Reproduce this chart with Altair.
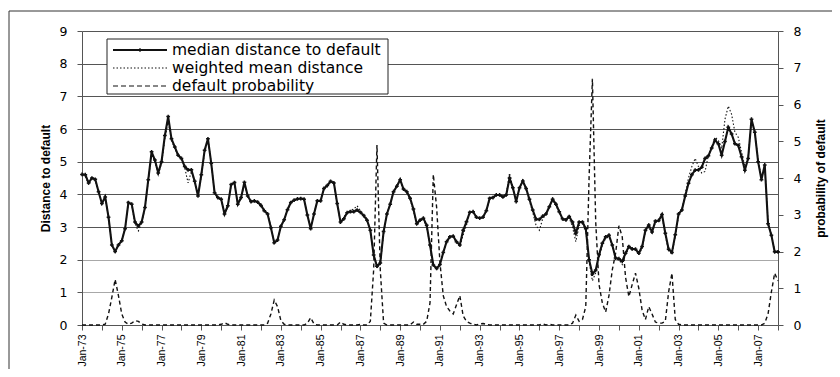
import altair as alt
import pandas as pd

START_YEAR = 1973
STEPS_PER_YEAR = 6  # one reading every two months

# median distance to default (left axis), rows = years 1973..2007, last value Jan-08
median = [
    4.61, 4.60, 4.35, 4.50, 4.46, 4.08,
    3.72, 3.92, 3.30, 2.45, 2.25, 2.45,
    2.58, 2.95, 3.75, 3.70, 3.15, 3.03,
    3.15, 3.60, 4.45, 5.30, 5.05, 4.65,
    5.00, 5.80, 6.38, 5.70, 5.45, 5.20,
    5.10, 4.85, 4.75, 4.75, 4.40, 3.95,
    4.60, 5.35, 5.70, 4.95, 4.05, 3.90,
    3.85, 3.40, 3.65, 4.30, 4.36, 3.70,
    3.90, 4.37, 3.95, 3.78, 3.80, 3.76,
    3.66, 3.50, 3.40, 2.98, 2.52, 2.60,
    3.02, 3.22, 3.53, 3.75, 3.82, 3.86,
    3.87, 3.85, 3.37, 2.95, 3.40, 3.80,
    3.80, 4.18, 4.27, 4.40, 4.35, 3.72,
    3.15, 3.25, 3.44, 3.47, 3.47, 3.52,
    3.45, 3.35, 3.21, 2.90, 2.14, 1.80,
    1.90, 2.86, 3.40, 3.70, 4.08, 4.25,
    4.45, 4.16, 4.08, 3.88, 3.55, 3.10,
    3.21, 3.27, 3.05, 2.45, 1.84, 1.73,
    1.85, 2.22, 2.55, 2.70, 2.72, 2.55,
    2.45, 2.90, 3.16, 3.45, 3.47, 3.30,
    3.27, 3.30, 3.50, 3.88, 3.90, 3.98,
    3.98, 3.92, 3.98, 4.50, 4.20, 3.78,
    4.20, 4.41, 4.18, 3.85, 3.52, 3.24,
    3.23, 3.33, 3.40, 3.62, 3.85, 3.70,
    3.47, 3.25, 3.22, 3.32, 3.15, 2.81,
    3.15, 3.15, 2.95, 2.00, 1.56, 1.68,
    2.15, 2.50, 2.70, 2.75, 2.45, 2.05,
    2.03, 1.95, 2.20, 2.40, 2.33, 2.32,
    2.20, 2.40, 2.90, 3.06, 2.85, 3.18,
    3.20, 3.38, 2.81, 2.32, 2.22, 2.76,
    3.40, 3.52, 3.95, 4.34, 4.60, 4.74,
    4.75, 4.83, 5.10, 5.18, 5.42, 5.66,
    5.55, 5.20, 5.62, 6.05, 5.85, 5.55,
    5.50, 5.15, 4.74, 5.10, 6.30, 5.90,
    5.00, 4.45, 4.90, 3.10, 2.75, 2.24,
    2.24,
]

# weighted mean distance (left axis)
wmean = [
    4.58, 4.55, 4.30, 4.48, 4.42, 4.05,
    3.70, 3.90, 3.30, 2.45, 2.28, 2.45,
    2.58, 2.95, 3.72, 3.68, 3.10, 2.88,
    3.12, 3.58, 4.42, 5.25, 5.00, 4.62,
    4.95, 5.70, 6.25, 5.65, 5.40, 5.18,
    5.08, 4.82, 4.35, 4.70, 4.38, 3.98,
    4.55, 5.30, 5.68, 4.95, 4.05, 3.88,
    3.85, 3.38, 3.62, 4.28, 4.33, 3.70,
    3.88, 4.33, 3.95, 3.75, 3.80, 3.78,
    3.70, 3.52, 3.42, 3.00, 2.52, 2.62,
    3.00, 3.22, 3.52, 3.75, 3.82, 3.86,
    3.87, 3.85, 3.37, 2.95, 3.40, 3.80,
    3.80, 4.18, 4.27, 4.38, 4.33, 3.72,
    3.15, 3.30, 3.46, 3.50, 3.55, 3.65,
    3.50, 3.38, 3.25, 2.90, 2.14, 1.75,
    1.85, 2.80, 3.40, 3.70, 4.08, 4.25,
    4.40, 4.15, 4.05, 3.85, 3.50, 3.05,
    3.18, 3.22, 3.00, 2.45, 1.82, 1.70,
    1.82, 2.20, 2.52, 2.68, 2.70, 2.52,
    2.40, 2.75, 3.05, 3.45, 3.47, 3.30,
    3.27, 3.30, 3.50, 3.85, 3.90, 3.98,
    3.98, 3.92, 4.00, 4.65, 4.20, 3.78,
    4.20, 4.41, 4.15, 3.80, 3.45, 3.05,
    2.90, 3.25, 3.38, 3.62, 3.82, 3.65,
    3.45, 3.22, 3.18, 3.28, 3.00, 2.55,
    3.05, 3.10, 2.90, 1.95, 1.35, 1.60,
    2.05, 2.45, 2.65, 2.70, 2.40, 2.00,
    2.00, 1.85, 2.15, 2.35, 2.30, 2.30,
    2.15, 2.35, 2.85, 3.00, 2.80, 3.15,
    3.15, 3.35, 2.75, 2.25, 2.18, 2.70,
    3.35, 3.55, 4.00, 4.50, 4.85, 5.10,
    4.85, 4.65, 4.70, 5.20, 5.45, 5.75,
    5.65, 5.40, 6.30, 6.70, 6.45, 5.90,
    5.75, 5.30, 4.85, 5.15, 6.25, 5.90,
    5.05, 4.50, 4.90, 3.15, 2.78, 2.26,
    2.26,
]

# default probability (right axis)
dprob = [
    0, 0, 0, 0, 0, 0,
    0, 0.02, 0.3, 0.75, 1.24, 0.8,
    0.3, 0.08, 0.02, 0.05, 0.12, 0.1,
    0.03, 0, 0, 0, 0, 0,
    0, 0, 0, 0, 0, 0,
    0, 0, 0, 0, 0, 0,
    0, 0, 0, 0, 0, 0,
    0.02, 0.06, 0.02, 0, 0, 0,
    0, 0, 0, 0, 0, 0,
    0, 0, 0.05, 0.3, 0.68, 0.5,
    0.12, 0.02, 0, 0, 0, 0,
    0, 0, 0.05, 0.2, 0.03, 0,
    0, 0, 0, 0, 0, 0,
    0.08, 0.02, 0, 0, 0, 0,
    0.02, 0, 0, 0.1, 1.5, 4.9,
    1.5, 0.05, 0, 0, 0, 0,
    0, 0, 0, 0, 0.08, 0.02,
    0.02, 0.02, 0.1, 0.6, 4.1, 3.2,
    1.7, 0.8, 0.5, 0.38, 0.3, 0.55,
    0.8, 0.25, 0.1, 0.05, 0.02, 0,
    0.03, 0.04, 0.02, 0, 0, 0,
    0, 0, 0, 0, 0, 0,
    0, 0, 0, 0, 0, 0,
    0, 0.03, 0, 0.02, 0, 0,
    0, 0, 0, 0, 0.05, 0.27,
    0.1, 0.15, 0.5, 4.0, 6.7, 2.8,
    1.1, 0.6, 0.35, 0.8, 1.5, 1.95,
    2.7, 2.4, 1.3, 0.77, 1.1, 1.41,
    1.0, 0.4, 0.15, 0.5, 0.3, 0.08,
    0.05, 0.05, 0.1, 0.9, 1.41, 0.15,
    0.02, 0, 0, 0, 0, 0,
    0, 0, 0, 0, 0, 0,
    0, 0, 0, 0, 0, 0,
    0, 0, 0, 0, 0, 0,
    0, 0, 0.05, 0.3, 0.9, 1.41,
    1.2,
]

tick_years = list(range(1973, 2009))
left_ticks = list(range(0, 10))
right_ticks = list(range(0, 9))
legend_labels = ["median distance to default", "weighted mean distance", "default probability"]

n = len(median)
assert len(wmean) == n and len(dprob) == n
t = [START_YEAR + k / STEPS_PER_YEAR for k in range(n)]
df = pd.DataFrame({"t": t, "median": median, "wmean": wmean, "dprob": dprob})

AX = "#555555"

xenc = alt.X(
    "t:Q",
    scale=alt.Scale(domain=[1973, 2008], nice=False, zero=False),
    axis=alt.Axis(
        values=tick_years,
        labelExpr="datum.value % 2 == 1 ? 'Jan-' + format(datum.value % 100, '02d') : ''",
        labelAngle=270,
        title=None,
        grid=False,
        tickSize=5,
        labelPadding=4,
        labelFont="Liberation Sans",
        labelFontSize=10.5,
        labelColor="black",
        domainColor=AX,
        tickColor=AX,
        labelOverlap=False,
        labelBound=False,
        labelFlush=False,
    ),
)

left_axis = alt.Axis(
    values=left_ticks,
    title="Distance to default",
    titleFont="Liberation Sans",
    titleFontSize=12,
    titleFontWeight="bold",
    titleColor="black",
    titlePadding=7,
    grid=True,
    gridColor={"condition": {"test": "datum.value <= 2", "value": "#a8a8a8"}, "value": "#555555"},
    gridWidth=1,
    labelFont="DejaVu Sans",
    labelFontSize=12.5,
    labelColor="black",
    tickSize=5,
    labelPadding=10,
    domainColor=AX,
    tickColor=AX,
)
yscale_left = alt.Scale(domain=[0, 9], nice=False)

base = alt.Chart(df)

median_line = base.mark_line(color="#111111", strokeWidth=2.1).encode(
    x=xenc, y=alt.Y("median:Q", scale=yscale_left, axis=left_axis)
)
median_pts = base.mark_point(shape="cross", filled=True, size=14, color="#111111", opacity=1).encode(
    x=xenc, y=alt.Y("median:Q", scale=yscale_left, axis=left_axis)
)
wmean_line = base.mark_line(color="#111111", strokeWidth=1.1, strokeDash=[1.5, 2]).encode(
    x=xenc, y=alt.Y("wmean:Q", scale=yscale_left, axis=left_axis)
)

left_layer = alt.layer(wmean_line, median_line, median_pts)

dp_line = base.mark_line(color="#111111", strokeWidth=1.4, strokeDash=[4, 3]).encode(
    x=xenc,
    y=alt.Y(
        "dprob:Q",
        scale=alt.Scale(domain=[0, 8], nice=False),
        axis=alt.Axis(
            orient="right",
            values=right_ticks,
            title="probability of default",
            titleFont="Liberation Sans",
            titleFontSize=12,
            titleFontWeight="bold",
            titleColor="black",
            titleAngle=270,
            titlePadding=27,
            grid=False,
            labelFont="DejaVu Sans",
            labelFontSize=12.5,
            labelColor="black",
            tickSize=5,
            labelPadding=10,
            domainColor=AX,
            tickColor=AX,
        ),
    ),
)

one = alt.Data(values=[{"a": 1}])

# legend box
leg_box = alt.Chart(one).mark_rect(fill="white", stroke="#222222", strokeWidth=1).encode(
    x=alt.value(25), x2=alt.value(306), y=alt.value(8), y2=alt.value(63)
)
leg_l1 = alt.Chart(one).mark_rule(color="#111111", strokeWidth=1.8).encode(
    x=alt.value(31), x2=alt.value(85), y=alt.value(19)
)
leg_p1 = alt.Chart(one).mark_point(shape="cross", filled=True, size=14, color="#111111", opacity=1).encode(
    x=alt.value(58), y=alt.value(19)
)
leg_l2 = alt.Chart(one).mark_rule(color="#111111", strokeWidth=1.1, strokeDash=[1.5, 2]).encode(
    x=alt.value(31), x2=alt.value(85), y=alt.value(37)
)
leg_l3 = alt.Chart(one).mark_rule(color="#111111", strokeWidth=1.2, strokeDash=[5, 3]).encode(
    x=alt.value(31), x2=alt.value(85), y=alt.value(55)
)
leg_texts = []
for i, lab in enumerate(legend_labels):
    leg_texts.append(
        alt.Chart(alt.Data(values=[{"label": lab}])).mark_text(
            align="left", baseline="middle", font="DejaVu Sans", fontSize=15.5, color="black"
        ).encode(x=alt.value(90), y=alt.value(19 + 18 * i), text="label:N")
    )

# outer frame of the figure
frame_top = alt.Chart(one).mark_rule(color="#333333", strokeWidth=1).encode(
    x=alt.value(-73), x2=alt.value(760), y=alt.value(-20)
)
frame_left = alt.Chart(one).mark_rule(color="#333333", strokeWidth=1).encode(
    x=alt.value(-73), y=alt.value(-20), y2=alt.value(360)
)

chart = (
    alt.layer(left_layer, dp_line, leg_box, leg_l1, leg_p1, leg_l2, leg_l3, *leg_texts, frame_top, frame_left)
    .resolve_scale(y="independent")
    .properties(
        width=696,
        height=294,
        autosize=alt.AutoSizeParams(type="none"),
        padding={"left": 74, "top": 23, "right": 54, "bottom": 44},
        background="white",
    )
    .configure_view(stroke=None)
)

chart.save("out.html", embed_options={"renderer": "svg", "actions": False})
